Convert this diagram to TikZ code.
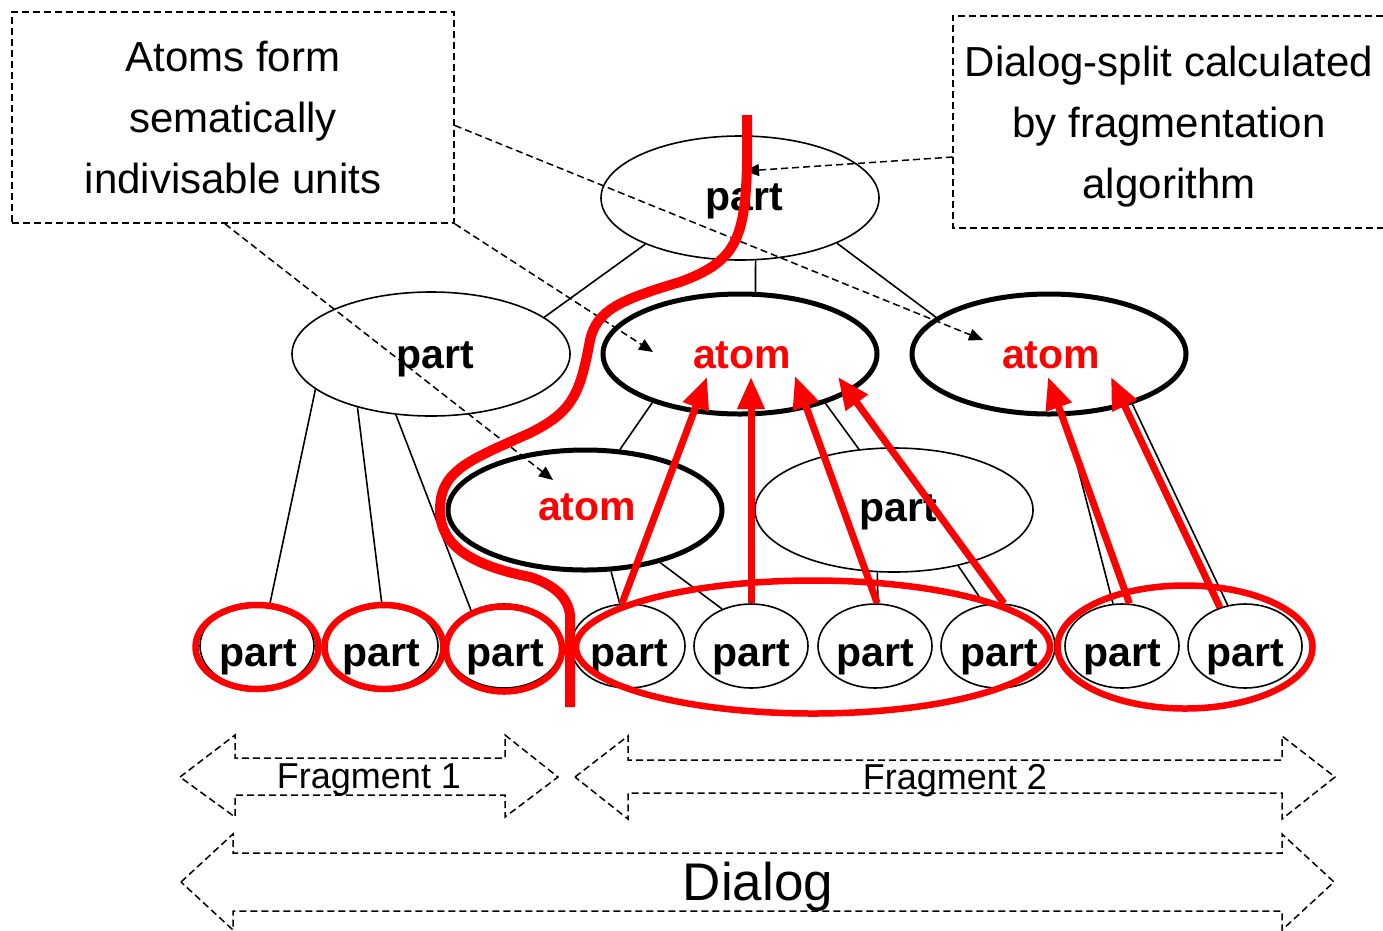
\documentclass[tikz,border=0pt]{standalone}
\usepackage{fontspec}
\setmainfont{Liberation Sans}
\usetikzlibrary{shapes.geometric,arrows.meta}
\definecolor{splitred}{RGB}{255,0,0}

\begin{document}
\begin{tikzpicture}[x=1pt,y=-1pt,
  thinell/.style={ellipse,draw,line width=1.6pt,inner sep=0pt,minimum width=278pt,minimum height=124pt},
  atomell/.style={ellipse,draw,line width=5pt,inner sep=0pt,minimum width=274pt,minimum height=120pt},
  leaf/.style={ellipse,draw,line width=1.6pt,inner sep=0pt,minimum width=114pt,minimum height=84pt},
  grp/.style={ellipse,draw=splitred,line width=6.5pt,inner sep=0pt},
  partlbl/.style={font=\bfseries\fontsize{41}{41}\selectfont,anchor=base,inner sep=0pt},
  atomlbl/.style={partlbl,text=splitred},
  treeline/.style={line width=1.6pt},
  dsh/.style={line width=1.8pt,dash pattern=on 7pt off 4pt},
  pointer/.style={line width=1.5pt,dash pattern=on 7pt off 4pt,-{Triangle[length=14pt,width=12pt]}},
  rise/.style={draw=splitred,line width=7pt,-{Triangle[length=32pt,width=26pt]}},
  splitline/.style={draw=splitred,line width=10pt},
  boxtext/.style={font=\fontsize{42}{61}\selectfont,align=center,inner sep=0pt},
  blockarrow/.style={line width=1.5pt,dash pattern=on 7pt off 4pt}
]
\useasboundingbox (0,0) rectangle (1383,930);

% explanatory boxes
\node[boxtext,draw,dsh,minimum width=442pt,minimum height=211pt] (lbox) at (233,117.5)
  {Atoms form\\sematically\\indivisable units};
\node[minimum width=430pt,minimum height=212pt,inner sep=0pt] (rbox) at (1168,122) {};
\node[boxtext] (rtext) at (1169,127)
  {Dialog-split calculated\\by fragmentation\\algorithm};
\draw[dsh] (rbox.north east) -- (rbox.north west) -- (rbox.south west) -- (rbox.south east);

% fragment and dialog extents
\draw[blockarrow] (180,777) -- (235,735) -- (235,758) -- (505,758) -- (505,735) -- (558,777)
  -- (505,817) -- (505,795) -- (235,795) -- (235,817) -- cycle;
\draw[blockarrow] (575,777) -- (628,736) -- (628,760) -- (1282,760) -- (1282,736) -- (1335,777)
  -- (1282,819) -- (1282,793) -- (628,793) -- (628,819) -- cycle;
\draw[blockarrow] (181,882) -- (233,834) -- (233,853) -- (1282,853) -- (1282,834) -- (1334,882)
  -- (1282,930) -- (1282,911) -- (233,911) -- (233,930) -- cycle;
\node[font=\fontsize{36}{36}\selectfont,anchor=base,inner sep=0pt] (f1lbl) at (369,788) {Fragment 1};
\node[font=\fontsize{36}{36}\selectfont,anchor=base,inner sep=0pt] (f2lbl) at (955,789) {Fragment 2};
\node[font=\fontsize{53}{53}\selectfont,anchor=base,inner sep=0pt] (dlbl) at (758,900) {Dialog};

% tree nodes
\node[thinell] (T) at (740,198) {};
\node[thinell] (L) at (431,354) {};
\node[atomell] (A1) at (740,354) {};
\node[atomell] (A2) at (1049,354) {};
\node[atomell] (A3) at (585,510) {};
\node[thinell] (P) at (894,510) {};
\foreach \i/\x in {1/257,2/381,3/504,4/628,5/751,6/875,7/998,8/1122,9/1245}
  \node[leaf] (b\i) at (\x,646) {};

% tree edges
\draw[treeline] (T.206) -- (L.18);
\draw[treeline] (T.284) -- (A1.76);
\draw[treeline] (T.335) -- (A2.162);
\draw[treeline] (L.197) -- (b1.73);
\draw[treeline] (L.216) -- (b2.89);
\draw[treeline] (L.240) -- (b3.133);
\draw[treeline] (A1.209) -- (A3.60);
\draw[treeline] (A1.330) -- (P.120);
\draw[treeline] (A2.284) -- (b8.102);
\draw[treeline] (A2.329) -- (b9.113);
\draw[treeline] (A3.293) -- (b4.101);
\draw[treeline] (A3.325) -- (b5.128);
\draw[treeline] (P.255) -- (b6.86);
\draw[treeline] (P.319) -- (b7.108);

% node labels
\node[partlbl] (Tl) at (744,210) {part};
\node[partlbl] (Ll) at (435,368) {part};
\node[atomlbl] (A1l) at (742,368) {atom};
\node[atomlbl] (A2l) at (1051,368) {atom};
\node[atomlbl] (A3l) at (587,520) {atom};
\node[partlbl] (Pl) at (898,521) {part};
\foreach \i/\x in {1/258,2/381,3/505,4/629,5/751,6/875,7/999,8/1122,9/1245}
  \node[partlbl] (b\i l) at (\x,666) {part};

% dashed pointers from the boxes
\coordinate (p1) at (553,480);
\coordinate (p2) at (653,352);
\coordinate (p3) at (983,340);
\coordinate (p4) at (745,171);
\draw[pointer] ([xshift=-8pt]lbox.south) -- (p1);
\draw[pointer] (lbox.south east) -- (p2);
\draw[pointer] ([yshift=-8pt]lbox.east) -- (p3);
\draw[pointer] ([yshift=-35pt]rbox.west) -- (p4);

% fragment groups
\node[grp,minimum width=123pt,minimum height=84pt] (g1) at (257,647) {};
\node[grp,minimum width=119pt,minimum height=84pt] (g2) at (384,647) {};
\node[grp,minimum width=116pt,minimum height=85pt] (g3) at (504,649) {};
\node[grp,minimum width=474pt,minimum height=133pt] (g4) at (813,647) {};
\node[grp,minimum width=255pt,minimum height=123pt] (g5) at (1185,647) {};

% leaves rising to their atoms
\coordinate (t1) at (707,377);
\coordinate (t2) at (751,377);
\coordinate (t3) at (795,376);
\coordinate (t4) at (838,377);
\coordinate (t5) at (1048,377);
\coordinate (t6) at (1111,377);
\draw[rise] (b4.98) -- (t1);
\draw[rise] (b5.90) -- (t2);
\draw[rise] (b6.87) -- (t3);
\draw[rise] (b7.82) -- (t4);
\draw[rise] (b8.80) -- (t5);
\draw[rise] (b9.123) -- (t6);

% the dialog split
\draw[splitline] (747,115) -- (747,165)
  .. controls (745,240) and (735,262) .. (680,282)
  .. controls (620,300) and (597,310) .. (590,340)
  .. controls (580,395) and (572,412) .. (530,433)
  .. controls (470,460) and (440,470) .. (440,510)
  .. controls (440,545) and (470,565) .. (530,577)
  .. controls (555,585) and (568,598) .. (570,615)
  -- (570,707);
\end{tikzpicture}
\end{document}
